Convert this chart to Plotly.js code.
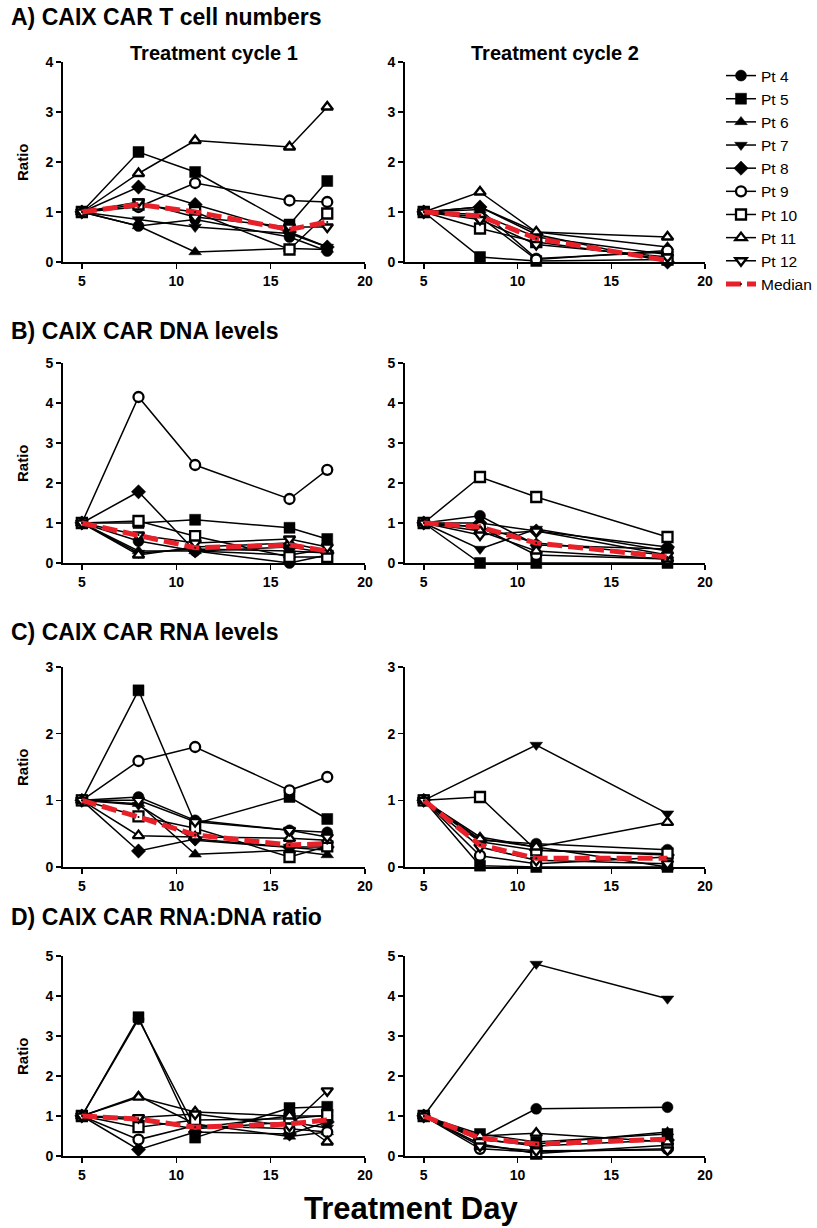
<!DOCTYPE html>
<html><head><meta charset="utf-8">
<script src="https://cdn.plot.ly/plotly-3.0.1.min.js"></script>
<style>html,body{margin:0;padding:0;background:#fff}</style>
</head><body><div id="chart" style="width:817px;height:1228px"></div>
<script>
// ---------- DATA ----------
const patients = ["Pt 4","Pt 5","Pt 6","Pt 7","Pt 8","Pt 9","Pt 10","Pt 11","Pt 12"];
const daysCycle1 = [5, 8, 11, 16, 18];
const daysCycle2 = [5, 8, 11, 18];

// rows follow the order of `patients`
const tcellCycle1 = [
  [1, 0.72, 0.85, 0.50, 0.22],
  [1, 2.20, 1.80, 0.75, 1.62],
  [1, 0.72, 0.20, 0.27, 0.25],
  [1, 0.85, 0.70, 0.57, 0.30],
  [1, 1.50, 1.15, 0.60, 0.30],
  [1, 1.10, 1.58, 1.23, 1.20],
  [1, 1.15, 1.00, 0.25, 0.97],
  [1, 1.77, 2.43, 2.30, 3.10],
  [1, 1.20, 0.90, 0.70, 0.70]
];
const tcellCycle1Median = [1, 1.15, 1.00, 0.65, 0.80];

const tcellCycle2 = [
  [1, 1.05, 0.07, 0.20],
  [1, 0.10, 0.02, 0.05],
  [1, 1.10, 0.60, 0.30],
  [1, 0.95, 0.50, 0.15],
  [1, 1.10, 0.55, 0.00],
  [1, 0.90, 0.05, 0.23],
  [1, 0.67, 0.40, 0.05],
  [1, 1.40, 0.60, 0.50],
  [1, 0.85, 0.35, 0.10]
];
const tcellCycle2Median = [1, 0.92, 0.47, 0.03];

const dnaCycle1 = [
  [1, 0.55, 0.30, 0.00, 0.20],
  [1, 1.00, 1.08, 0.88, 0.60],
  [1, 0.30, 0.30, 0.20, 0.35],
  [1, 0.25, 0.35, 0.30, 0.25],
  [1, 1.78, 0.30, 0.40, 0.25],
  [1, 4.15, 2.45, 1.60, 2.33],
  [1, 1.05, 0.67, 0.15, 0.15],
  [1, 0.20, 0.40, 0.50, 0.30],
  [1, 0.70, 0.50, 0.60, 0.40]
];
const dnaCycle1Median = [1, 0.70, 0.38, 0.45, 0.30];

const dnaCycle2 = [
  [1, 1.18, 0.45, 0.35],
  [1, 0.00, 0.00, 0.00],
  [1, 0.90, 0.50, 0.20],
  [1, 0.35, 0.85, 0.30],
  [1, 1.00, 0.80, 0.40],
  [1, 0.90, 0.20, 0.10],
  [1, 2.15, 1.65, 0.65],
  [1, 0.80, 0.30, 0.10],
  [1, 0.70, 0.80, 0.20]
];
const dnaCycle2Median = [1, 0.90, 0.50, 0.15];

const rnaCycle1 = [
  [1, 1.05, 0.70, 0.55, 0.52],
  [1, 2.65, 0.65, 1.05, 0.72],
  [1, 0.95, 0.19, 0.25, 0.18],
  [1, 0.93, 0.40, 0.30, 0.25],
  [1, 0.24, 0.42, 0.30, 0.30],
  [1, 1.59, 1.80, 1.15, 1.35],
  [1, 0.76, 0.58, 0.15, 0.31],
  [1, 0.47, 0.45, 0.43, 0.40],
  [1, 1.00, 0.68, 0.55, 0.45]
];
const rnaCycle1Median = [1, 0.75, 0.48, 0.33, 0.35];

const rnaCycle2 = [
  [1, 0.40, 0.35, 0.26],
  [1, 0.02, 0.00, 0.00],
  [1, 0.45, 0.30, 0.00],
  [1, null, 1.83, 0.80],
  [1, 0.38, 0.25, 0.18],
  [1, 0.17, 0.05, 0.15],
  [1, 1.05, 0.25, 0.20],
  [1, 0.42, 0.30, 0.67],
  [1, 0.30, 0.10, 0.05]
];
const rnaCycle2Median = [1, 0.33, 0.13, 0.13];

const ratioCycle1 = [
  [1, 3.42, 0.70, 1.00, 1.00],
  [1, 3.47, 0.46, 1.20, 1.23],
  [1, 1.50, 0.80, 0.49, 0.60],
  [1, 0.90, 0.68, 0.85, 0.70],
  [1, 0.16, 0.60, 0.55, 0.85],
  [1, 0.41, 0.76, 0.68, 0.60],
  [1, 0.72, 0.90, 0.93, 1.02],
  [1, 1.47, 1.10, 1.00, 0.35],
  [1, 0.96, 1.05, 0.75, 1.63]
];
const ratioCycle1Median = [1, 0.92, 0.72, 0.80, 0.90];

const ratioCycle2 = [
  [1, 0.45, 1.18, 1.22],
  [1, 0.55, 0.35, 0.55],
  [1, 0.40, 0.30, 0.60],
  [1, null, 4.80, 3.93],
  [1, 0.42, 0.25, 0.40],
  [1, 0.18, 0.10, 0.18],
  [1, 0.30, 0.06, 0.27],
  [1, 0.50, 0.57, 0.35],
  [1, 0.25, 0.13, 0.15]
];
const ratioCycle2Median = [1, 0.45, 0.30, 0.42];

const panelTitles = ["A) CAIX CAR T cell numbers", "B) CAIX CAR DNA levels", "C) CAIX CAR RNA levels", "D) CAIX CAR RNA:DNA ratio"];
const cycleTitles = ["Treatment cycle 1", "Treatment cycle 2"];
const yTops = [4, 5, 3, 5];
const xTicks = [5, 10, 15, 20];

// ---------- STYLE / LAYOUT ----------
const W = 817, H = 1228;
const FONT = "Liberation Sans, Arial, Helvetica, sans-serif";
const symbols = ["circle","square","triangle-up","triangle-down","diamond","circle","square","triangle-up","triangle-down"];
const filled = [true,true,true,true,true,false,false,false,false];
const colPx = [[63, 365], [405, 705]];
const rowPx = [[62, 262], [363, 563], [667, 867], [956, 1156]];
const px = v => v / W;
const py = v => 1 - v / H;

const panels = [
  [tcellCycle1, tcellCycle1Median, daysCycle1], [tcellCycle2, tcellCycle2Median, daysCycle2],
  [dnaCycle1, dnaCycle1Median, daysCycle1], [dnaCycle2, dnaCycle2Median, daysCycle2],
  [rnaCycle1, rnaCycle1Median, daysCycle1], [rnaCycle2, rnaCycle2Median, daysCycle2],
  [ratioCycle1, ratioCycle1Median, daysCycle1], [ratioCycle2, ratioCycle2Median, daysCycle2]
];

const traces = [];
const layout = {
  width: W, height: H,
  margin: {l: 0, r: 0, t: 0, b: 0},
  paper_bgcolor: "#fff", plot_bgcolor: "#fff",
  font: {family: FONT, color: "#000"},
  showlegend: true,
  legend: {x: px(721), y: py(59), xanchor: "left", yanchor: "top",
           font: {family: FONT, size: 15.5, color: "#000"}, bgcolor: "rgba(0,0,0,0)",
           tracegroupgap: 0, itemwidth: 30},
  annotations: [], shapes: []
};

panels.forEach((p, i) => {
  const [rows, med, days] = p;
  const r = Math.floor(i / 2), c = i % 2;
  const n = i + 1;
  const xa = "x" + (n === 1 ? "" : n), ya = "y" + (n === 1 ? "" : n);
  rows.forEach((vals, k) => {
    traces.push({
      type: "scatter", mode: "lines+markers", x: days, y: vals,
      xaxis: xa, yaxis: ya, name: patients[k], legendgroup: patients[k],
      showlegend: i === 0, connectgaps: true, cliponaxis: false,
      line: {color: "#000", width: 1.5},
      marker: {symbol: symbols[k], size: filled[k] ? 11 : 10,
               color: filled[k] ? "#000" : "#fff",
               line: {color: "#000", width: filled[k] ? 0.5 : 2.3}}
    });
  });
  traces.push({
    type: "scatter", mode: "lines+markers", x: days, y: med,
    xaxis: xa, yaxis: ya, name: "Median", legendgroup: "Median",
    showlegend: i === 0, cliponaxis: false,
    line: {color: "#e8202a", width: 5, dash: "15px,6px"},
    marker: {symbol: "circle", size: 2, color: "#000"}
  });
  const axisCommon = {
    showgrid: false, zeroline: false, showline: true, linecolor: "#000", linewidth: 2,
    ticks: "outside", ticklen: 5, tickwidth: 1.5, tickcolor: "#000",
    tickfont: {family: FONT, size: 14, color: "#000", weight: "bold"}, fixedrange: true
  };
  layout["xaxis" + (n === 1 ? "" : n)] = Object.assign({}, axisCommon, {
    domain: [px(colPx[c][0]), px(colPx[c][1])], range: [4, 20],
    tickvals: xTicks, anchor: ya
  });
  layout["yaxis" + (n === 1 ? "" : n)] = Object.assign({}, axisCommon, {
    domain: [py(rowPx[r][1]), py(rowPx[r][0])], range: [0, yTops[r]],
    dtick: 1, tick0: 0, anchor: xa
  });
  if (c === 0) {
    layout.annotations.push({
      text: "Ratio", xref: "paper", yref: "paper", x: px(22), y: py((rowPx[r][0] + rowPx[r][1]) / 2),
      textangle: -90, showarrow: false, xanchor: "center", yanchor: "middle",
      font: {family: FONT, size: 15, color: "#000", weight: "bold"}
    });
  }
});

// panel titles
const titleY = [17, 331, 632, 917];
panelTitles.forEach((t, r) => {
  layout.annotations.push({
    text: t, xref: "paper", yref: "paper", x: px(9), y: py(titleY[r]),
    xanchor: "left", yanchor: "middle", showarrow: false,
    font: {family: FONT, size: 23, color: "#000", weight: "bold"}
  });
});
cycleTitles.forEach((t, c) => {
  layout.annotations.push({
    text: t, xref: "paper", yref: "paper", x: px((colPx[c][0] + colPx[c][1]) / 2), y: py(53),
    xanchor: "center", yanchor: "middle", showarrow: false,
    font: {family: FONT, size: 20, color: "#000", weight: "bold"}
  });
});
layout.annotations.push({
  text: "Treatment Day", xref: "paper", yref: "paper", x: px(411), y: py(1208),
  xanchor: "center", yanchor: "middle", showarrow: false,
  font: {family: FONT, size: 31, color: "#000", weight: "bold"}
});

Plotly.newPlot("chart", traces, layout, {displayModeBar: false, staticPlot: true});
</script>
</body></html>
